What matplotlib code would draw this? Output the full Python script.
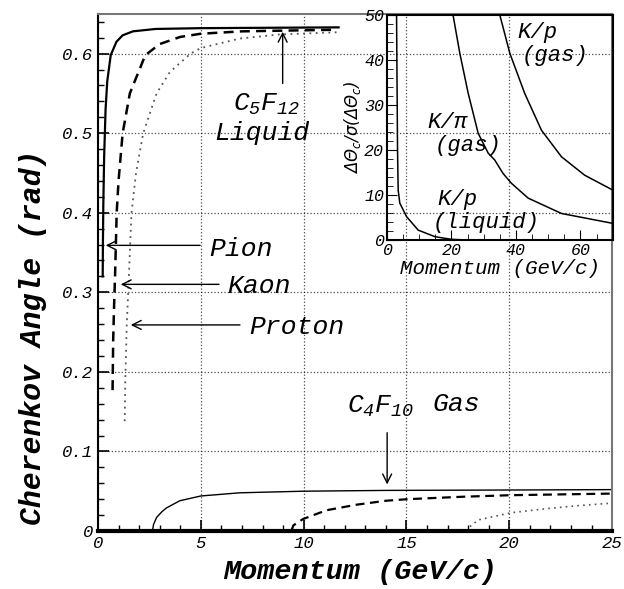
import matplotlib
matplotlib.use('Agg')
import matplotlib.pyplot as plt
from matplotlib.ticker import MultipleLocator, FuncFormatter

plt.rcParams['font.family'] = ['Liberation Mono', 'DejaVu Sans Mono']
plt.rcParams['font.style'] = 'italic'
plt.rcParams['mathtext.fontset'] = 'custom'
plt.rcParams['mathtext.it'] = 'Liberation Mono:italic'
plt.rcParams['mathtext.rm'] = 'Liberation Mono:italic'

# C5F12 liquid radiator: momentum (GeV/c) vs Cherenkov angle (rad)
liq_pion_p = [0.23, 0.24, 0.26, 0.30, 0.37, 0.45, 0.62, 0.90, 1.2, 1.7, 2.8, 5.0, 11.7]
liq_pion_th = [0.320, 0.36, 0.41, 0.47, 0.53, 0.565, 0.598, 0.615, 0.623, 0.628, 0.631, 0.632, 0.633]
liq_kaon_p = [0.71, 0.74, 0.78, 0.83, 0.91, 1.0, 1.2, 1.55, 2.3, 3.0, 4.0, 5.0, 7.0, 11.5]
liq_kaon_th = [0.177, 0.24, 0.28, 0.32, 0.40, 0.44, 0.50, 0.55, 0.598, 0.612, 0.621, 0.625, 0.628, 0.630]
liq_prot_p = [1.30, 1.33, 1.40, 1.47, 1.63, 1.85, 2.2, 2.85, 3.5, 4.5, 5.0, 6.9, 8.8, 11.75]
liq_prot_th = [0.138, 0.19, 0.26, 0.30, 0.40, 0.45, 0.50, 0.55, 0.577, 0.600, 0.607, 0.619, 0.624, 0.627]

# C4F10 gas radiator
gas_pion_p = [2.65, 2.7, 2.85, 3.1, 3.33, 3.98, 5.0, 6.9, 10.0, 14.0, 20.0, 25.0]
gas_pion_th = [0.0, 0.008, 0.017, 0.024, 0.029, 0.038, 0.044, 0.048, 0.050, 0.051, 0.0515, 0.052]
gas_kaon_p = [9.4, 9.5, 9.97, 11.1, 12.56, 14.0, 15.07, 17.7, 20.1, 25.0]
gas_kaon_th = [0.0, 0.007, 0.015, 0.026, 0.033, 0.038, 0.040, 0.043, 0.045, 0.047]
gas_prot_p = [17.9, 18.06, 18.5, 20.1, 21.8, 23.4, 25.0]
gas_prot_th = [0.0, 0.005, 0.014, 0.023, 0.028, 0.032, 0.035]

# inset: separation in units of resolution
kp_liq_p = [3.0, 3.3, 3.5, 4.0, 6.1, 9.7, 14.9, 20.0, 25.0, 70.0]
kp_liq_sep = [50, 20, 11.1, 8.2, 5.2, 2.2, 0.74, 0.15, 0.0, 0.0]
kpi_gas_p = [20.5, 22.6, 25.2, 28.3, 31.4, 33.4, 36.0, 38.6, 43.8, 54.1, 70.0]
kpi_gas_sep = [50, 41.5, 32.6, 23.7, 19.3, 17.8, 14.8, 12.6, 9.3, 5.9, 3.7]
kp_gas_p = [35.0, 38.1, 42.7, 47.9, 54.1, 61.3, 70.0]
kp_gas_sep = [50, 41.5, 32.6, 24.4, 18.5, 14.4, 11.1]

fig = plt.figure(figsize=(6.24, 5.89), dpi=100)
ax = fig.add_axes([0.157, 0.0985, 0.824, 0.878])

ax.plot(liq_pion_p, liq_pion_th, color='k', lw=1.6)
ax.plot(liq_kaon_p, liq_kaon_th, color='k', lw=1.8, ls=(0, (4, 2.5)))
ax.plot(liq_prot_p, liq_prot_th, color='#555555', lw=1.3, ls=(0, (1, 2.5)))
ax.plot(gas_pion_p, gas_pion_th, color='k', lw=1.0)
ax.plot(gas_kaon_p, gas_kaon_th, color='k', lw=1.6, ls=(0, (4, 2.5)))
ax.plot(gas_prot_p, gas_prot_th, color='#555555', lw=1.2, ls=(0, (1, 2.5)))

ax.set_xlim(0, 25)
ax.set_ylim(0, 0.65)
ax.xaxis.set_major_locator(MultipleLocator(5))
ax.xaxis.set_minor_locator(MultipleLocator(1))
ax.yaxis.set_major_locator(MultipleLocator(0.1))
ax.yaxis.set_minor_locator(MultipleLocator(0.02))
ax.xaxis.set_major_formatter(FuncFormatter(lambda v, p: f'{v:g}'))
ax.yaxis.set_major_formatter(FuncFormatter(lambda v, p: '0' if abs(v) < 1e-9 else f'{v:.1f}'))
ax.tick_params(which='both', direction='in', labelsize=12.5)
ax.tick_params(which='major', length=8, width=1.2)
ax.tick_params(which='minor', length=4, width=1.0)
ax.grid(True, which='major', color='k', ls=':', lw=0.9, alpha=0.7)
for s in ax.spines.values():
    s.set_linewidth(1.5)
ax.spines['bottom'].set_linewidth(3)
ax.spines['top'].set_color('#777777')
ax.spines['right'].set_color('#777777')

ax.set_xlabel('Momentum (GeV/c)', fontsize=20.5, fontweight='bold')
ax.set_ylabel('Cherenkov Angle (rad)', fontsize=21.5, fontweight='bold')
ax.xaxis.set_label_coords(0.51, -0.055)
ax.yaxis.set_label_coords(-0.10, 0.375)

arr = dict(arrowstyle='->', color='k', lw=1.0, mutation_scale=16)
ax.annotate('', xy=(0.24, 0.359), xytext=(5.1, 0.359), arrowprops=arr)
ax.text(5.39, 0.355, 'Pion', fontsize=19, va='center', ha='left')
ax.annotate('', xy=(0.97, 0.310), xytext=(6.02, 0.310), arrowprops=arr)
ax.text(6.31, 0.308, 'Kaon', fontsize=19, va='center', ha='left')
ax.annotate('', xy=(1.46, 0.259), xytext=(7.04, 0.259), arrowprops=arr)
ax.text(7.38, 0.257, 'Proton', fontsize=19, va='center', ha='left')

ax.annotate('', xy=(8.98, 0.631), xytext=(8.98, 0.559), arrowprops=arr)
ax.text(8.2, 0.536, r'$C_5F_{12}$', fontsize=19, va='center', ha='center')
ax.text(7.96, 0.500, 'Liquid', fontsize=19, va='center', ha='center')

ax.text(12.09, 0.157, r'$C_4F_{10}$', fontsize=19, va='center', ha='left')
ax.text(16.26, 0.159, 'Gas', fontsize=19, va='center', ha='left')
ax.annotate('', xy=(14.06, 0.055), xytext=(14.06, 0.127), arrowprops=arr)

# inset
ins = fig.add_axes([0.620, 0.5925, 0.362, 0.382], facecolor='none')
ins.plot(kp_liq_p, kp_liq_sep, color='k', lw=1.1)
ins.plot(kpi_gas_p, kpi_gas_sep, color='k', lw=1.1)
ins.plot(kp_gas_p, kp_gas_sep, color='k', lw=1.1)
ins.set_xlim(0, 70)
ins.set_ylim(0, 50)
ins.xaxis.set_major_locator(MultipleLocator(20))
ins.xaxis.set_minor_locator(MultipleLocator(5))
ins.yaxis.set_major_locator(MultipleLocator(10))
ins.yaxis.set_minor_locator(MultipleLocator(2))
ins.tick_params(which='both', direction='in', labelsize=12, pad=2)
ins.tick_params(which='major', length=7)
ins.tick_params(which='minor', length=4)
for s in ins.spines.values():
    s.set_linewidth(1.5)
ins.set_xlabel('Momentum (GeV/c)', fontsize=15, labelpad=1)
ins.set_ylabel(r'$\Delta\Theta_c/\sigma(\Delta\Theta_c)$', fontsize=12,
               family='DejaVu Sans', style='normal', math_fontfamily='dejavusans', labelpad=1)

ins.text(40.3, 46.2, 'K/p', fontsize=16, va='center')
ins.text(41.8, 41.1, '(gas)', fontsize=16, va='center')
ins.text(12.7, 26.2, 'K/π', fontsize=16, va='center')
ins.text(14.9, 20.9, '(gas)', fontsize=16, va='center')
ins.text(15.5, 8.9, 'K/p', fontsize=16, va='center')
ins.text(14.2, 4.0, '(liquid)', fontsize=16, va='center')

fig.savefig('out.png', dpi=100)
